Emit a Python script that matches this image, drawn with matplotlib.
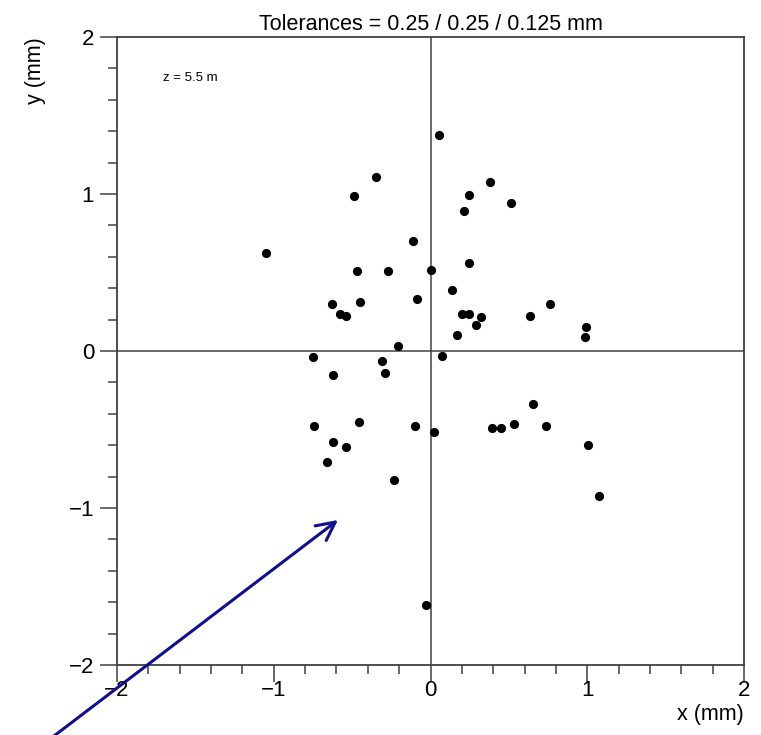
import matplotlib
matplotlib.use("Agg")
import matplotlib.pyplot as plt
from matplotlib.ticker import MultipleLocator

# measured offsets at z = 5.5 m (mm)
x_mm = [0.054, -0.348, -0.489, -0.110, -1.052, -0.470, -0.270, 0.002, -0.630, -0.450,
        -0.087, -0.575, -0.541, -0.207, -0.747, -0.310, 0.075, 0.382, 0.248, 0.511,
        0.212, 0.244, 0.139, 0.199, 0.248, 0.325, 0.289, 0.632, 0.762, 0.167,
        0.995, 0.988, 1.002, 1.073, -0.289, -0.625, -0.455, -0.743, -0.099, 0.024,
        -0.621, -0.540, -0.659, -0.235, 0.393, 0.448, 0.533, 0.651, 0.740, -0.030]
y_mm = [1.376, 1.107, 0.985, 0.699, 0.622, 0.509, 0.511, 0.517, 0.300, 0.313,
        0.330, 0.236, 0.224, 0.032, -0.038, -0.065, -0.030, 1.075, 0.994, 0.943,
        0.894, 0.562, 0.388, 0.236, 0.236, 0.215, 0.168, 0.221, 0.300, 0.105,
        0.151, 0.087, -0.600, -0.921, -0.140, -0.153, -0.453, -0.476, -0.476, -0.517,
        -0.581, -0.613, -0.704, -0.821, -0.492, -0.492, -0.466, -0.340, -0.479, -1.617]

title = "Tolerances = 0.25 / 0.25 / 0.125 mm"
z_label = "z = 5.5 m"

plt.rcParams['font.family'] = ['Liberation Sans', 'DejaVu Sans']
fig = plt.figure(figsize=(7.61, 7.35), dpi=100)
ax = fig.add_axes([117/761, 70/735, 627/761, 628/735])

frame_col = '#404040'
ax.axhline(0, color=frame_col, lw=1.1, zorder=1)
ax.axvline(0, color=frame_col, lw=1.1, zorder=1)
ax.plot(x_mm, y_mm, 'o', color='black', ms=5.6, zorder=3)

ax.set_xlim(-2, 2)
ax.set_ylim(-2, 2)
for s in ax.spines.values():
    s.set_color(frame_col)
    s.set_linewidth(1.3)

ax.xaxis.set_major_locator(MultipleLocator(1))
ax.xaxis.set_minor_locator(MultipleLocator(0.2))
ax.yaxis.set_major_locator(MultipleLocator(1))
ax.yaxis.set_minor_locator(MultipleLocator(0.2))
ax.tick_params(which='both', direction='out', color=frame_col, width=1.1,
               top=False, right=False)
ax.tick_params(which='major', length=12.5, labelsize=16)
ax.tick_params(which='minor', length=6.5)
ax.tick_params(axis='x', which='major', pad=-2)
ax.tick_params(axis='y', which='major', pad=4)

ax.set_title(title, fontsize=15.5, pad=5)
ax.set_xlabel("x (mm)", fontsize=15.5, loc='right')
ax.xaxis.set_label_coords(1.0, -0.062)
ax.set_ylabel("y (mm)", fontsize=15.5, loc='top')
ax.yaxis.set_label_coords(-0.113, 1.0)

ax.text(0.073, 0.935, z_label, transform=ax.transAxes, fontsize=9.5,
        ha='left', va='center')

ax.annotate('', xy=(338/761, 215/735), xytext=(50/761, -4/735),
            xycoords='figure fraction', textcoords='figure fraction',
            annotation_clip=False,
            arrowprops=dict(arrowstyle='->,head_length=1.1,head_width=0.55',
                            color='#10108c', lw=2.2, mutation_scale=12,
                            shrinkA=0, shrinkB=0))

fig.savefig('out.png', dpi=100)
